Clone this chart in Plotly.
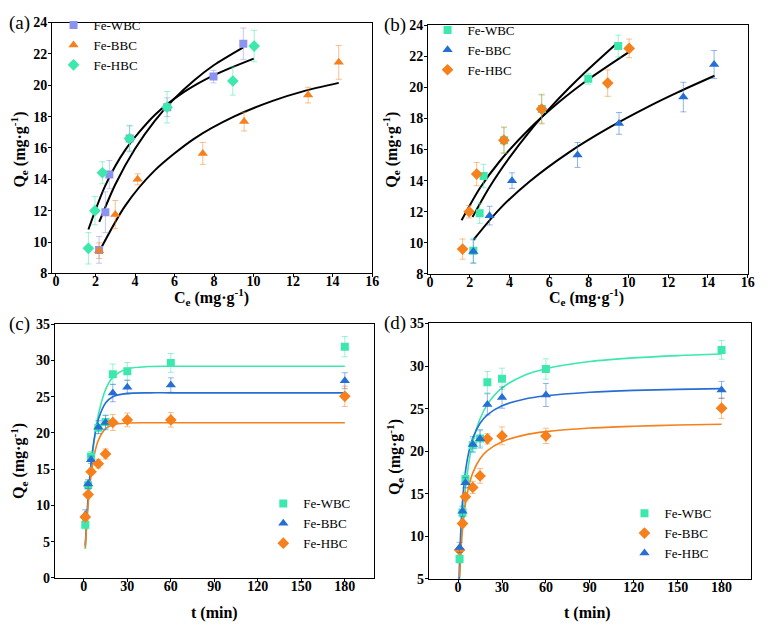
import plotly.graph_objects as go

# =========================
# ISOTHERMES (a) et (b) : points mesurés
# =========================
ce_wbc = [2.18, 2.5, 2.7, 3.73, 5.63, 7.97, 9.48]
qe_wbc = [9.5, 11.9, 14.3, 16.6, 18.6, 20.55, 22.65]
ce_bbc = [2.18, 3.0, 4.13, 7.43, 9.52, 12.76, 14.31]
qe_bbc = [9.45, 11.75, 14.0, 15.65, 17.68, 19.37, 21.46]
ce_hbc = [1.64, 1.97, 2.35, 3.72, 5.62, 8.95, 10.03]
qe_hbc = [9.6, 12.0, 14.42, 16.6, 18.6, 20.27, 22.5]

err_a_wbc = [0.85, 1.3, 0.9, 0.8, 0.6, 0.4, 1.0]
err_a_bbc = [0.5, 0.9, 0.35, 0.7, 0.6, 0.5, 1.08]
err_a_hbc = [1.0, 0.9, 0.7, 0.85, 1.0, 0.9, 1.0]

err_b_wbc = [0.8, 0.65, 0.75, 0.8, 0.9, 0.35, 0.7]
err_b_bbc = [0.75, 0.6, 0.5, 0.8, 0.7, 0.95, 0.9]
err_b_hbc = [0.65, 0.4, 0.75, 0.85, 0.95, 0.85, 0.6]

# courbes ajustées
fa_wbc_x = [2.19, 3, 4, 5, 6, 7, 8, 9.48]
fa_wbc_y = [11.28, 13.67, 15.95, 17.73, 19.16, 20.32, 21.29, 22.42]
fa_bbc_x = [2.19, 3.5, 5, 7, 9, 11, 12.5, 14.31]
fa_bbc_y = [9.4, 12.31, 14.57, 16.6, 18.0, 19.02, 19.61, 20.15]
fa_hbc_x = [1.64, 2.5, 3.5, 5, 6.5, 8, 10.01]
fa_hbc_y = [10.8, 13.61, 15.86, 18.1, 19.59, 20.65, 21.7]

fb_wbc_x = [2.14, 3, 4, 5, 6, 7, 8, 9.43]
fb_wbc_y = [11.66, 13.59, 15.48, 17.14, 18.61, 19.95, 21.19, 22.85]
fb_bbc_x = [2.19, 3.5, 5, 7, 9, 11, 12.5, 14.33]
fb_bbc_y = [10.2, 12.17, 13.93, 15.82, 17.39, 18.76, 19.69, 20.74]
fb_hbc_x = [1.59, 2.5, 3.5, 5, 6.5, 8, 10.03]
fb_hbc_y = [11.45, 13.49, 15.23, 17.32, 19.05, 20.53, 22.28]

# =========================
# CINETIQUE (c) et (d)
# =========================
t_min = [1, 3, 5, 10, 15, 20, 30, 60, 180]
kin_wbc = [7.35, 12.8, 16.75, 20.7, 21.5, 28.1, 28.5, 29.65, 31.9]
kin_bbc = [8.7, 12.95, 16.3, 20.8, 21.45, 25.5, 26.3, 26.6, 27.2]
kin_hbc = [8.4, 11.5, 14.65, 15.75, 17.1, 21.45, 21.8, 21.8, 25.05]

err_c_wbc = [0.6, 0.6, 0.7, 0.8, 0.9, 1.4, 1.2, 1.3, 1.4]
err_c_bbc = [0.7, 0.6, 0.5, 0.9, 1.0, 1.2, 0.95, 1.0, 1.1]
err_c_hbc = [0.3, 0.4, 0.4, 0.6, 0.7, 1.1, 0.95, 1.0, 1.4]

err_d_wbc = [0.5, 0.6, 0.7, 0.8, 0.9, 1.25, 1.25, 1.2, 1.1]
err_d_blue = [0.6, 0.6, 0.6, 0.9, 1.07, 1.25, 1.25, 1.35, 1.0]
err_d_orange = [0.3, 0.4, 0.5, 0.72, 0.86, 0.6, 1.05, 0.9, 1.2]

tc_fit = [1, 2, 3, 5, 7.5, 10, 15, 20, 30, 45, 60, 180]
fc_wbc = [3.99, 7.44, 10.41, 15.2, 19.5, 22.49, 25.98, 27.66, 28.85, 29.16, 29.2, 29.2]
fc_bbc = [4.5, 8.21, 11.26, 15.85, 19.57, 21.86, 24.14, 25.0, 25.45, 25.53, 25.53, 25.53]
fc_hbc = [4.19, 7.56, 10.27, 14.2, 17.23, 18.98, 20.59, 21.13, 21.37, 21.4, 21.4, 21.4]

td_fit = [1, 2, 3, 5, 7.5, 10, 15, 20, 30, 45, 60, 90, 120, 150, 180]
fd_wbc = [5.07, 8.77, 11.59, 15.59, 18.84, 21.04, 23.81, 25.5, 27.43, 28.9, 29.69, 30.53, 30.96, 31.23, 31.41]
fd_orange = [5.21, 8.53, 10.84, 13.83, 16.05, 17.45, 19.11, 20.06, 21.12, 21.89, 22.3, 22.72, 22.93, 23.07, 23.16]
td_blue = [0.6, 1, 2, 3, 5, 7.5, 10, 15, 20, 30, 45, 60, 90, 120, 150, 180]
fd_blue = [4.77, 7.13, 11.35, 14.14, 17.6, 20.05, 21.55, 23.29, 24.28, 25.34, 26.11, 26.51, 26.92, 27.14, 27.26, 27.35]

# =========================
# STYLE
# =========================
FONT = "Liberation Serif"
TEAL = "rgb(60,232,172)"
BLUE = "rgb(38,110,212)"
ORANGE = "rgb(245,128,28)"
LILAS = "rgb(140,146,240)"

# la page html ajoute 8 px de marge au body : on travaille en pixels "écran"
OFF = 8
W, H = 762, 630


def px(x):
    return (x - OFF) / W


def py(y):
    return 1 - (y - OFF) / H


def light(c, a=0.5):
    return c.replace("rgb", "rgba").replace(")", f",{a})")


def points(x, y, err, name, color, symbol, xa, ya, leg, size=8):
    return go.Scatter(
        x=x, y=y, mode="markers", name=name,
        marker=dict(color=color, symbol=symbol, size=size),
        error_y=dict(type="data", array=err, color=light(color),
                     thickness=1, width=3),
        xaxis=xa, yaxis=ya, legend=leg,
    )


def fit(x, y, color, xa, ya, width=2):
    return go.Scatter(
        x=x, y=y, mode="lines", showlegend=False,
        line=dict(color=color, width=width, shape="spline", smoothing=0.8),
        xaxis=xa, yaxis=ya,
    )


fig = go.Figure()

# (a)
fig.add_trace(fit(fa_wbc_x, fa_wbc_y, "black", "x", "y"))
fig.add_trace(fit(fa_hbc_x, fa_hbc_y, "black", "x", "y"))
fig.add_trace(fit(fa_bbc_x, fa_bbc_y, "black", "x", "y"))
fig.add_trace(points(ce_wbc, qe_wbc, err_a_wbc, "Fe-WBC", LILAS, "square", "x", "y", "legend"))
fig.add_trace(points(ce_bbc, qe_bbc, err_a_bbc, "Fe-BBC", ORANGE, "triangle-up", "x", "y", "legend", 9))
fig.add_trace(points(ce_hbc, qe_hbc, err_a_hbc, "Fe-HBC", TEAL, "diamond", "x", "y", "legend", 9))

# (b)
fig.add_trace(fit(fb_wbc_x, fb_wbc_y, "black", "x2", "y2"))
fig.add_trace(fit(fb_hbc_x, fb_hbc_y, "black", "x2", "y2"))
fig.add_trace(fit(fb_bbc_x, fb_bbc_y, "black", "x2", "y2"))
fig.add_trace(points(ce_wbc, qe_wbc, err_b_wbc, "Fe-WBC", TEAL, "square", "x2", "y2", "legend2"))
fig.add_trace(points(ce_bbc, qe_bbc, err_b_bbc, "Fe-BBC", BLUE, "triangle-up", "x2", "y2", "legend2", 9))
fig.add_trace(points(ce_hbc, qe_hbc, err_b_hbc, "Fe-HBC", ORANGE, "diamond", "x2", "y2", "legend2", 9))

# (c)
fig.add_trace(fit(tc_fit, fc_wbc, TEAL, "x3", "y3", 1.6))
fig.add_trace(fit(tc_fit, fc_bbc, BLUE, "x3", "y3", 1.6))
fig.add_trace(fit(tc_fit, fc_hbc, ORANGE, "x3", "y3", 1.6))
fig.add_trace(points(t_min, kin_wbc, err_c_wbc, "Fe-WBC", TEAL, "square", "x3", "y3", "legend3"))
fig.add_trace(points(t_min, kin_bbc, err_c_bbc, "Fe-BBC", BLUE, "triangle-up", "x3", "y3", "legend3", 9))
fig.add_trace(points(t_min, kin_hbc, err_c_hbc, "Fe-HBC", ORANGE, "diamond", "x3", "y3", "legend3", 9))

# (d) : légendes inversées comme sur l'original
fig.add_trace(fit(td_fit, fd_wbc, TEAL, "x4", "y4", 1.6))
fig.add_trace(fit(td_blue, fd_blue, BLUE, "x4", "y4", 1.6))
fig.add_trace(fit(td_fit, fd_orange, ORANGE, "x4", "y4", 1.6))
fig.add_trace(points(t_min, kin_wbc, err_d_wbc, "Fe-WBC", TEAL, "square", "x4", "y4", "legend4"))
fig.add_trace(points(t_min, kin_hbc, err_d_orange, "Fe-BBC", ORANGE, "diamond", "x4", "y4", "legend4", 9))
fig.add_trace(points(t_min, kin_bbc, err_d_blue, "Fe-HBC", BLUE, "triangle-up", "x4", "y4", "legend4", 9))


def axis(a, b, horiz, rng, dtick, anchor):
    domain = [px(a), px(b)] if horiz else [py(b), py(a)]
    return dict(
        domain=domain, range=rng, dtick=dtick, tick0=0, anchor=anchor,
        showline=True, linecolor="black", linewidth=1, mirror=True,
        ticks="outside", ticklen=3, tickcolor="black", showgrid=False,
        zeroline=False, ticklabelstandoff=-8 if horiz else -2,
        tickfont=dict(family=FONT, size=14, color="black", weight="bold"),
    )


fig.update_layout(
    width=W, height=H,
    margin=dict(l=0, r=0, t=0, b=0),
    paper_bgcolor="white", plot_bgcolor="white",
    xaxis=axis(51.5, 375, True, [-0.2, 16], 2, "y"),
    yaxis=axis(15.7, 272.7, False, [8, 24], 2, "x"),
    xaxis2=axis(431.5, 754.5, True, [-0.1, 16], 2, "y2"),
    yaxis2=axis(18.3, 273.3, False, [8, 24], 2, "x2"),
    xaxis3=axis(54.3, 376.7, True, [-20, 200], 30, "y3"),
    yaxis3=axis(324.7, 584.7, False, [0, 35], 5, "x3"),
    xaxis4=axis(432.3, 757.7, True, [-20, 200], 30, "y4"),
    yaxis4=axis(324, 585.7, False, [5, 35], 5, "x4"),
    showlegend=True,
)

leg_style = dict(font=dict(family=FONT, size=13, color="black"),
                 bgcolor="rgba(0,0,0,0)", tracegroupgap=0,
                 xanchor="left", yanchor="top")
fig.update_layout(
    legend=dict(leg_style, x=px(53), y=py(3)),
    legend2=dict(leg_style, x=px(431), y=py(8)),
    legend3=dict(leg_style, x=px(265), y=py(493)),
    legend4=dict(leg_style, x=px(630), y=py(503)),
)

QE = "Q<sub>e</sub> (mg·g<sup>-1</sup>)"
CE = "C<sub>e</sub> (mg·g<sup>-1</sup>)"
TT = "t (min)"

# titres d'axes : (texte, x, y, angle)
titres = [
    (CE, 213, 297, 0), (QE, 18, 146, -90),
    (CE, 592, 297, 0), (QE, 394, 146, -90),
    (TT, 216, 621, 0), (QE, 18, 465, -90),
    (TT, 593, 621, 0), (QE, 398, 461, -90),
]
for txt, tx, ty, ang in titres:
    fig.add_annotation(text=txt, x=px(tx), y=py(ty), xref="paper", yref="paper",
                       xanchor="center", yanchor="middle", showarrow=False,
                       textangle=ang,
                       font=dict(family=FONT, size=16, color="black", weight="bold"))

for txt, lx, ly in [("(a)", 6, 16), ("(b)", 385, 18), ("(c)", 6, 325), ("(d)", 385, 324)]:
    fig.add_annotation(text=txt, x=px(lx), y=py(ly), xref="paper", yref="paper",
                       xanchor="left", yanchor="middle", showarrow=False,
                       font=dict(family=FONT, size=19, color="black"))

fig.write_html("out.html")
